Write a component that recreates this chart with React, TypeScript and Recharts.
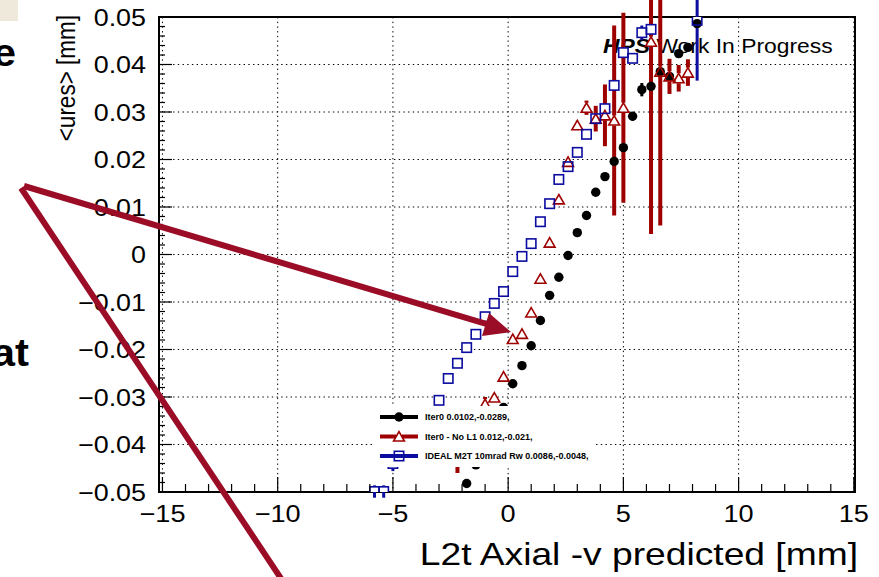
import React from "react";
import { ScatterChart, Scatter, XAxis, YAxis, CartesianGrid, ErrorBar, ReferenceArea } from "recharts";

const FONT = "'Liberation Sans', Arial, Helvetica, sans-serif";
const RED = "#9e0000";
const BLUE = "#0c0ca0";
const ARROW = "#9b0c26";

const X_MIN = -15.15;
const X_MAX = 15.05;
const Y_MIN = -0.05;
const Y_MAX = 0.05;

const X_MAJOR = [-15, -10, -5, 0, 5, 10, 15];
const X_LABELS = ["\u221215", "\u221210", "\u22125", "0", "5", "10", "15"];
const Y_MAJOR = [-0.05, -0.04, -0.03, -0.02, -0.01, 0, 0.01, 0.02, 0.03, 0.04, 0.05];
const Y_LABELS = [
  "\u22120.05", "\u22120.04", "\u22120.03", "\u22120.02", "\u22120.01",
  "0", "0.01", "0.02", "0.03", "0.04", "0.05",
];

// minor ticks: 5 subdivisions per major interval
const X_TICKS = Array.from({ length: 31 }, (_, i) => -15 + i);
const Y_TICKS = Array.from({ length: 51 }, (_, i) => Math.round((Y_MIN + i * 0.002) * 1e6) / 1e6);

// Iter0 0.0102,-0.0289
const ITER0_X = [-1.8, -1.4, -0.2, 0.2, 0.6, 1.0, 1.4, 1.8, 2.2, 2.6, 3.0, 3.4, 3.8, 4.2, 4.6, 5.0, 5.4, 5.8, 6.2, 6.6, 7.0, 7.4, 7.8, 8.2];
const ITER0_Y = [-0.0482, -0.0443, -0.0322, -0.0272, -0.0234, -0.0192, -0.0139, -0.0086, -0.0048, -0.0002, 0.0046, 0.0082, 0.0131, 0.0164, 0.0196, 0.0225, 0.0291, 0.0347, 0.0354, 0.0385, 0.0375, 0.0423, 0.0436, 0.0486];
const ITER0_ERR = [0.0004, 0.0004, 0.0004, 0.0004, 0.0004, 0.0004, 0.0004, 0.0004, 0.0004, 0.0004, 0.0004, 0.0004, 0.0004, 0.0004, 0.0004, 0.0005, 0.0009, 0.0014, 0.0006, 0.0006, 0.0006, 0.0006, 0.0006, 0.0008];

// Iter0 - No L1 0.012,-0.021
const NOL1_X = [-2.2, -1.0, -0.6, -0.2, 0.2, 0.6, 1.0, 1.4, 1.8, 2.2, 2.6, 3.0, 3.4, 3.8, 4.2, 4.6, 5.0, 6.2, 6.6, 7.0, 7.4, 7.8];
const NOL1_Y = [-0.043, -0.0315, -0.0301, -0.0257, -0.0178, -0.0167, -0.0122, -0.0051, 0.0025, 0.0116, 0.0195, 0.0272, 0.0309, 0.0286, 0.0293, 0.0282, 0.0309, 0.0448, 0.0385, 0.0375, 0.0371, 0.0383];
const NOL1_ERR = [0.003, 0.0015, 0.0005, 0.0005, 0.0005, 0.0005, 0.0005, 0.0005, 0.0005, 0.0005, 0.0005, 0.001, 0.0015, 0.0027, 0.0065, 0.02, 0.02, 0.0405, 0.0324, 0.0037, 0.0028, 0.0028];

// IDEAL M2T 10mrad Rw 0.0086,-0.0048
const IDEAL_X = [-5.8, -5.4, -5.0, -3.0, -2.6, -2.2, -1.8, -1.4, -1.0, -0.6, -0.2, 0.2, 0.6, 1.0, 1.4, 1.8, 2.2, 2.6, 3.0, 3.4, 3.8, 4.2, 4.6, 5.0, 5.4, 5.8, 6.2, 8.2];
const IDEAL_Y = [-0.0499, -0.0499, -0.044, -0.0307, -0.0261, -0.0229, -0.0196, -0.0168, -0.0131, -0.0103, -0.0078, -0.0036, -0.0004, 0.0023, 0.0069, 0.0107, 0.0158, 0.0185, 0.0215, 0.0253, 0.0286, 0.0307, 0.0356, 0.0425, 0.0413, 0.0467, 0.0474, 0.0493];
const IDEAL_ERR = [0.0013, 0.0013, 0.0016, 0.0005, 0.0005, 0.0005, 0.0005, 0.0005, 0.0005, 0.0005, 0.0005, 0.0005, 0.0005, 0.0005, 0.0005, 0.0005, 0.0005, 0.0005, 0.0005, 0.0005, 0.0005, 0.0005, 0.0005, 0.0005, 0.001, 0.0015, 0.0015, 0.0127];

const LEGEND_LABELS = [
  "Iter0 0.0102,-0.0289,",
  "Iter0 - No L1 0.012,-0.021,",
  "IDEAL M2T 10mrad Rw 0.0086,-0.0048,",
];

const toPoints = (xs: number[], ys: number[], es: number[]) =>
  xs.map((x, i) => ({ x, y: ys[i], err: es[i] }));

const iter0 = toPoints(ITER0_X, ITER0_Y, ITER0_ERR);
const noL1 = toPoints(NOL1_X, NOL1_Y, NOL1_ERR);
const ideal = toPoints(IDEAL_X, IDEAL_Y, IDEAL_ERR);

const triPoints = (cx: number, cy: number) =>
  `${cx},${cy - 4.9} ${cx + 5.4},${cy + 4.5} ${cx - 5.4},${cy + 4.5}`;

const DotShape = (p: any) => <circle cx={p.cx} cy={p.cy} r={4.7} fill="#000" />;
const TriShape = (p: any) => (
  <polygon points={triPoints(p.cx, p.cy)} fill="none" stroke={RED} strokeWidth={1.6} />
);
// white gap around the marker, like ROOT leaves in its error bars
const TriGap = (p: any) => <rect x={p.cx - 3} y={p.cy - 5} width={6} height={10} fill="#fff" />;
const SqGap = (p: any) => <rect x={p.cx - 4.7} y={p.cy - 4.7} width={9.4} height={9.4} fill="#fff" />;
const SquareShape = (p: any) => (
  <rect x={p.cx - 4.7} y={p.cy - 4.7} width={9.4} height={9.4} fill="none" stroke={BLUE} strokeWidth={1.6} />
);
const NoShape = () => <g />;

function XTick(props: any) {
  const { x, y, payload } = props;
  const i = X_MAJOR.findIndex((m) => Math.abs(m - payload.value) < 1e-6);
  const major = i >= 0;
  return (
    <g>
      <line x1={x} x2={x} y1={y} y2={y - (major ? 15 : 8)} stroke="#000" strokeWidth={1.2} />
      {major && (
        <text
          transform={`translate(${x},${y + 30}) scale(1.13,1)`}
          textAnchor="middle"
          fontFamily={FONT}
          fontSize={24}
          fill="#000"
        >
          {X_LABELS[i]}
        </text>
      )}
    </g>
  );
}

function YTick(props: any) {
  const { x, y, payload } = props;
  const i = Y_MAJOR.findIndex((m) => Math.abs(m - payload.value) < 1e-7);
  const major = i >= 0;
  return (
    <g>
      <line x1={x} x2={x + (major ? 13 : 6)} y1={y} y2={y} stroke="#000" strokeWidth={1.2} />
      {major && (
        <text
          transform={`translate(${x - 13},${y + 8.5}) scale(1.12,1)`}
          textAnchor="end"
          fontFamily={FONT}
          fontSize={24}
          fill="#000"
        >
          {Y_LABELS[i]}
        </text>
      )}
    </g>
  );
}

function LegendBox() {
  const rows = [
    { color: "#000", marker: (cy: number) => <circle cx={26} cy={cy} r={4.7} fill="#000" /> },
    {
      color: RED,
      marker: (cy: number) => (
        <g>
          <rect x={23} y={cy - 5} width={6} height={10} fill="#fff" />
          <polygon points={triPoints(26, cy)} fill="none" stroke={RED} strokeWidth={1.6} />
        </g>
      ),
    },
    {
      color: BLUE,
      marker: (cy: number) => (
        <rect x={21.3} y={cy - 4.7} width={9.4} height={9.4} fill="none" stroke={BLUE} strokeWidth={1.6} />
      ),
    },
  ];
  return (
    <div style={{ position: "absolute", left: 373, top: 406, width: 222, height: 61, background: "#fff" }}>
      <svg width={222} height={61}>
        {rows.map((r, i) => {
          const cy = 11 + i * 19.5;
          return (
            <g key={i}>
              <line x1={7} x2={45} y1={cy} y2={cy} stroke={r.color} strokeWidth={4} />
              {r.marker(cy)}
              <text x={52} y={cy + 3.3} fontFamily={FONT} fontWeight="bold" fontSize={9} fill="#000">
                {LEGEND_LABELS[i]}
              </text>
            </g>
          );
        })}
      </svg>
    </div>
  );
}

export default function App() {
  return (
    <div style={{ position: "absolute", left: 0, top: 0, width: 879, height: 577, background: "#fff", overflow: "hidden" }}>
      <svg width={879} height={577} style={{ position: "absolute", left: 0, top: 0 }}>
        <rect x={0} y={0} width={18} height={21} fill="#efe9dc" />
        <text transform="translate(16,66) scale(1.1,1)" textAnchor="end" fontFamily={FONT} fontWeight="bold" fontSize={38} fill="#000">e</text>
        <text transform="translate(29,366) scale(1.1,1)" textAnchor="end" fontFamily={FONT} fontWeight="bold" fontSize={38} fill="#000">at</text>
        <text transform="translate(603,53) scale(1.09,1)" fontFamily={FONT} fontSize={21} fill="#000">
          <tspan fontWeight="bold" fontStyle="italic">HPS</tspan>
          <tspan> Work In Progress</tspan>
        </text>
        <text transform="translate(75,15) scale(1.13,1) rotate(-90)" textAnchor="end" fontFamily={FONT} fontSize={22.5} fill="#000">
          {"<ures> [mm]"}
        </text>
        <text transform="translate(858,565) scale(1.2,1)" textAnchor="end" fontFamily={FONT} fontSize={31} fill="#000">
          L2t Axial -v predicted [mm]
        </text>
      </svg>

      <div style={{ position: "absolute", left: 0, top: 0 }}>
        <ScatterChart width={879} height={577} margin={{ top: 17, right: 24, bottom: 0, left: 59 }}>
          <CartesianGrid
            stroke="#000"
            strokeDasharray="1.4 3.3"
            strokeWidth={1}
            horizontalValues={Y_MAJOR}
            verticalValues={X_MAJOR}
          />
          <XAxis
            dataKey="x"
            type="number"
            domain={[X_MIN, X_MAX]}
            ticks={X_TICKS}
            interval={0}
            allowDataOverflow
            axisLine={false}
            tickLine={false}
            tickSize={0}
            tickMargin={0}
            height={85}
            tick={<XTick />}
          />
          <YAxis
            dataKey="y"
            type="number"
            domain={[Y_MIN, Y_MAX]}
            ticks={Y_TICKS}
            interval={0}
            allowDataOverflow
            axisLine={false}
            tickLine={false}
            tickSize={0}
            tickMargin={0}
            width={100}
            tick={<YTick />}
          />
          <ReferenceArea
            x1={X_MIN}
            x2={X_MAX}
            y1={Y_MIN}
            y2={Y_MAX}
            fill="none"
            fillOpacity={0}
            stroke="#000"
            strokeWidth={2}
            ifOverflow="visible"
          />
          <Scatter data={ideal} shape={SqGap} isAnimationActive={false}>
            <ErrorBar dataKey="err" direction="y" width={0} stroke={BLUE} strokeWidth={3} isAnimationActive={false} />
          </Scatter>
          <Scatter data={noL1} shape={TriGap} isAnimationActive={false}>
            <ErrorBar dataKey="err" direction="y" width={0} stroke={RED} strokeWidth={4} isAnimationActive={false} />
          </Scatter>
          <Scatter data={iter0} shape={DotShape} isAnimationActive={false}>
            <ErrorBar dataKey="err" direction="y" width={0} stroke="#000" strokeWidth={3} isAnimationActive={false} />
          </Scatter>
          <Scatter data={noL1} shape={TriShape} isAnimationActive={false} />
          <Scatter data={ideal} shape={SquareShape} isAnimationActive={false} />
        </ScatterChart>
      </div>

      <LegendBox />

      <svg width={879} height={577} style={{ position: "absolute", left: 0, top: 0, pointerEvents: "none" }}>
        <line x1={24} y1={186} x2={487} y2={324} stroke={ARROW} strokeWidth={6} />
        <polygon points="511,332 482,336 489,313" fill={ARROW} />
        <line x1={21} y1={188} x2={282} y2={580} stroke={ARROW} strokeWidth={6} />
      </svg>
    </div>
  );
}
